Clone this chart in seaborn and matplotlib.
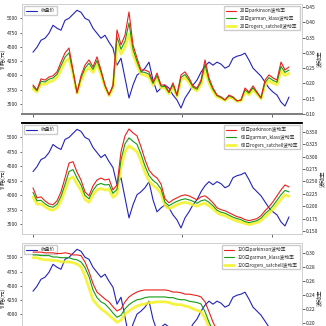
import numpy as np
import pandas as pd
import seaborn as sns
import matplotlib
matplotlib.use('Agg')
import matplotlib.pyplot as plt
from matplotlib.ticker import FormatStrFormatter

# ---------------- data ----------------
close = [4407, 4494, 4616, 4651, 4738, 4878, 4826, 4791, 4965, 5000, 5070, 5140, 5105, 5000, 4965,
         4826, 4738, 4651, 4704, 4582, 4477, 4180, 4302, 3954, 3605, 3832, 4006, 4058, 4128, 4233,
         3919, 3710, 3779, 3832, 3779, 3657, 3570, 3430, 3605, 3710, 3832, 3919, 4058, 4163, 4233,
         4180, 4233, 4198, 4128, 4163, 4302, 4337, 4355, 4390, 4268, 4128, 4058, 3988, 3884, 3779,
         3710, 3657, 3535, 3465, 3622]

p1_park = [0.195, 0.179, 0.215, 0.211, 0.221, 0.225, 0.238, 0.270, 0.300, 0.316, 0.244, 0.169, 0.225,
           0.260, 0.277, 0.254, 0.287, 0.244, 0.195, 0.162, 0.195, 0.375, 0.326, 0.358, 0.434, 0.326,
           0.283, 0.244, 0.244, 0.238, 0.205, 0.234, 0.195, 0.195, 0.172, 0.202, 0.162, 0.228, 0.238,
           0.218, 0.192, 0.185, 0.211, 0.277, 0.218, 0.185, 0.162, 0.156, 0.146, 0.162, 0.156, 0.143,
           0.146, 0.185, 0.172, 0.192, 0.172, 0.153, 0.211, 0.228, 0.218, 0.211, 0.270, 0.244, 0.254]
p1_gk = [0.190, 0.176, 0.207, 0.205, 0.214, 0.218, 0.230, 0.258, 0.286, 0.300, 0.238, 0.170, 0.218,
         0.250, 0.266, 0.246, 0.275, 0.238, 0.192, 0.163, 0.190, 0.352, 0.312, 0.338, 0.398, 0.312,
         0.272, 0.238, 0.236, 0.230, 0.200, 0.226, 0.191, 0.190, 0.170, 0.196, 0.160, 0.220, 0.229,
         0.211, 0.188, 0.181, 0.204, 0.262, 0.210, 0.180, 0.160, 0.154, 0.146, 0.159, 0.154, 0.143,
         0.145, 0.179, 0.168, 0.186, 0.169, 0.152, 0.203, 0.219, 0.210, 0.204, 0.256, 0.236, 0.244]
p1_rs = [0.182, 0.172, 0.198, 0.197, 0.205, 0.209, 0.220, 0.244, 0.270, 0.282, 0.230, 0.168, 0.208,
         0.238, 0.252, 0.236, 0.262, 0.230, 0.187, 0.160, 0.184, 0.328, 0.296, 0.318, 0.362, 0.296,
         0.260, 0.230, 0.227, 0.221, 0.194, 0.217, 0.186, 0.184, 0.166, 0.189, 0.157, 0.211, 0.219,
         0.203, 0.183, 0.176, 0.196, 0.246, 0.201, 0.174, 0.156, 0.151, 0.144, 0.155, 0.151, 0.141,
         0.143, 0.172, 0.163, 0.179, 0.165, 0.150, 0.194, 0.209, 0.201, 0.196, 0.242, 0.226, 0.233]

p2_park = [0.237, 0.217, 0.219, 0.211, 0.205, 0.203, 0.211, 0.229, 0.257, 0.287, 0.290, 0.269, 0.253,
           0.229, 0.221, 0.241, 0.253, 0.257, 0.253, 0.255, 0.233, 0.243, 0.310, 0.342, 0.356, 0.348,
           0.342, 0.320, 0.294, 0.273, 0.263, 0.257, 0.245, 0.215, 0.207, 0.213, 0.217, 0.221, 0.223,
           0.221, 0.217, 0.213, 0.219, 0.221, 0.215, 0.207, 0.197, 0.193, 0.191, 0.187, 0.183, 0.179,
           0.177, 0.173, 0.171, 0.173, 0.175, 0.181, 0.191, 0.199, 0.209, 0.221, 0.233, 0.243, 0.239]
p2_gk = [0.228, 0.211, 0.212, 0.205, 0.200, 0.198, 0.204, 0.220, 0.244, 0.270, 0.274, 0.257, 0.243,
         0.222, 0.215, 0.232, 0.243, 0.246, 0.243, 0.244, 0.226, 0.234, 0.294, 0.326, 0.338, 0.331,
         0.325, 0.305, 0.281, 0.262, 0.252, 0.246, 0.235, 0.208, 0.201, 0.206, 0.210, 0.213, 0.215,
         0.213, 0.210, 0.206, 0.211, 0.213, 0.208, 0.201, 0.192, 0.188, 0.186, 0.182, 0.178, 0.175,
         0.173, 0.169, 0.167, 0.169, 0.171, 0.176, 0.185, 0.192, 0.201, 0.212, 0.223, 0.232, 0.229]
p2_rs = [0.219, 0.204, 0.205, 0.199, 0.194, 0.192, 0.197, 0.211, 0.232, 0.255, 0.259, 0.245, 0.232,
         0.214, 0.208, 0.223, 0.233, 0.236, 0.233, 0.234, 0.218, 0.225, 0.279, 0.310, 0.322, 0.316,
         0.310, 0.291, 0.268, 0.251, 0.242, 0.236, 0.226, 0.201, 0.195, 0.199, 0.203, 0.206, 0.208,
         0.206, 0.203, 0.200, 0.204, 0.206, 0.201, 0.195, 0.187, 0.183, 0.181, 0.177, 0.173, 0.170,
         0.168, 0.165, 0.163, 0.165, 0.167, 0.171, 0.179, 0.186, 0.194, 0.204, 0.214, 0.223, 0.220]

p3_park = [0.301, 0.301, 0.301, 0.300, 0.300, 0.300, 0.299, 0.299, 0.300, 0.299, 0.297, 0.297, 0.296,
           0.287, 0.273, 0.256, 0.244, 0.239, 0.234, 0.230, 0.223, 0.217, 0.220, 0.230, 0.237, 0.241,
           0.244, 0.246, 0.247, 0.247, 0.247, 0.247, 0.247, 0.247, 0.246, 0.244, 0.244, 0.243, 0.241,
           0.241, 0.240, 0.239, 0.237, 0.230, 0.216, 0.201, 0.190, 0.183, 0.179, 0.177, 0.176, 0.176,
           0.176, 0.177, 0.177, 0.179, 0.179, 0.180, 0.180, 0.180, 0.181, 0.181, 0.181, 0.181, 0.181]
p3_gk = [0.297, 0.297, 0.296, 0.296, 0.296, 0.294, 0.294, 0.293, 0.293, 0.293, 0.291, 0.290, 0.287,
         0.279, 0.266, 0.247, 0.236, 0.230, 0.227, 0.221, 0.214, 0.208, 0.211, 0.220, 0.226, 0.230,
         0.233, 0.234, 0.236, 0.237, 0.237, 0.237, 0.237, 0.237, 0.236, 0.236, 0.234, 0.233, 0.233,
         0.231, 0.230, 0.229, 0.227, 0.216, 0.201, 0.188, 0.178, 0.173, 0.170, 0.168, 0.167, 0.167,
         0.167, 0.168, 0.168, 0.168, 0.170, 0.170, 0.170, 0.171, 0.171, 0.171, 0.171, 0.171, 0.171]
p3_rs = [0.293, 0.293, 0.291, 0.290, 0.290, 0.289, 0.289, 0.287, 0.287, 0.287, 0.286, 0.284, 0.280,
         0.267, 0.250, 0.233, 0.226, 0.220, 0.216, 0.211, 0.206, 0.201, 0.204, 0.213, 0.217, 0.221,
         0.224, 0.226, 0.227, 0.229, 0.229, 0.230, 0.230, 0.230, 0.229, 0.227, 0.226, 0.226, 0.224,
         0.223, 0.220, 0.218, 0.216, 0.207, 0.194, 0.181, 0.171, 0.166, 0.163, 0.161, 0.161, 0.161,
         0.161, 0.161, 0.163, 0.163, 0.163, 0.163, 0.164, 0.164, 0.164, 0.164, 0.164, 0.164, 0.164]

windows = ['20日', '60日', '120日']
methods = ['parkinson', 'garman_klass', 'rogers_satchell']
panels_vol = [[p1_park, p1_gk, p1_rs], [p2_park, p2_gk, p2_rs], [p3_park, p3_gk, p3_rs]]
price_ticks = [3500, 3750, 4000, 4250, 4500, 4750, 5000]
vol_ticks = [[0.10, 0.15, 0.20, 0.25, 0.30, 0.35, 0.40, 0.45],
             [0.150, 0.175, 0.200, 0.225, 0.250, 0.275, 0.300, 0.325, 0.350],
             [0.16, 0.18, 0.20, 0.22, 0.24, 0.26, 0.28, 0.30]]
vol_fmt = ['%.2f', '%.3f', '%.2f']
vol_lims = [(0.10, 0.46), (0.144, 0.368), (0.157, 0.314)]

# ---------------- style ----------------
sns.set_style('white')
plt.rcParams['font.family'] = ['Noto Sans CJK SC', 'DejaVu Sans']
plt.rcParams['axes.unicode_minus'] = False

colors = ['#e8211d', '#159a15', '#f4f220']
widths = [0.8, 0.8, 2.0]
alphas = [1.0, 1.0, 0.85]
blue = '#2323b8'

fig = plt.figure(figsize=(3.26, 3.26), dpi=100)
W = 326.0
positions = [[22 / W, 212 / W, 280 / W, 110 / W],
             [22 / W, 92 / W, 280 / W, 111 / W],
             [22 / W, -27 / W, 280 / W, 110 / W]]

x = np.arange(len(close))
for k in range(3):
    ax = fig.add_axes(positions[k])
    df = pd.DataFrame({'x': x, 'close': close})
    sns.lineplot(data=df, x='x', y='close', ax=ax, color=blue, lw=0.8, label='收盘价')
    ax.set_ylim(3326, 5250)
    ax.set_xlim(-2.75, 67.25)
    ax.set_yticks(price_ticks)
    ax.set_xticks([0, 37.25, 59.75])
    ax.set_xticklabels([])
    ax.set_xlabel('')
    ax.set_ylabel('价格(元)', fontsize=4, labelpad=1)
    ax.tick_params(axis='both', labelsize=3.6, length=1.8, width=0.5, pad=1, direction='out',
                   left=True, bottom=True)
    ax.legend(loc='upper left', fontsize=3.4, handlelength=2.2, frameon=True, borderpad=0.4,
              framealpha=1, edgecolor='#cccccc', fancybox=False)

    ax2 = ax.twinx()
    vdf = pd.DataFrame({'x': x})
    for j in range(3):
        vdf['v%d' % j] = panels_vol[k][j]
    zorders = [3, 2, 1]
    for j in range(3):
        sns.lineplot(data=vdf, x='x', y='v%d' % j, ax=ax2, color=colors[j], lw=widths[j],
                     alpha=alphas[j], label=windows[k] + methods[j] + '波动率', zorder=zorders[j])
    ax2.set_ylim(*vol_lims[k])
    ax2.set_yticks(vol_ticks[k])
    ax2.yaxis.set_major_formatter(FormatStrFormatter(vol_fmt[k]))
    ax2.set_ylabel('波动率', fontsize=4, labelpad=1)
    ax2.set_xlabel('')
    ax2.tick_params(axis='y', labelsize=3.6, length=1.8, width=0.5, pad=1, direction='out', right=True)
    ax2.legend(loc='upper right', fontsize=3.4, handlelength=2.2, frameon=True, borderpad=0.4,
               framealpha=1, edgecolor='#cccccc', fancybox=False)

    for a in (ax, ax2):
        for s in a.spines.values():
            s.set_color('#d0d0d0')
            s.set_linewidth(0.7)
    if k == 0:
        for a in (ax, ax2):
            a.spines['bottom'].set_color('#808080')
            a.spines['bottom'].set_linewidth(1.4)
    if k == 1:
        for a in (ax, ax2):
            a.spines['top'].set_color('black')
            a.spines['top'].set_linewidth(1.2)

fig.savefig('out.png', dpi=100)
